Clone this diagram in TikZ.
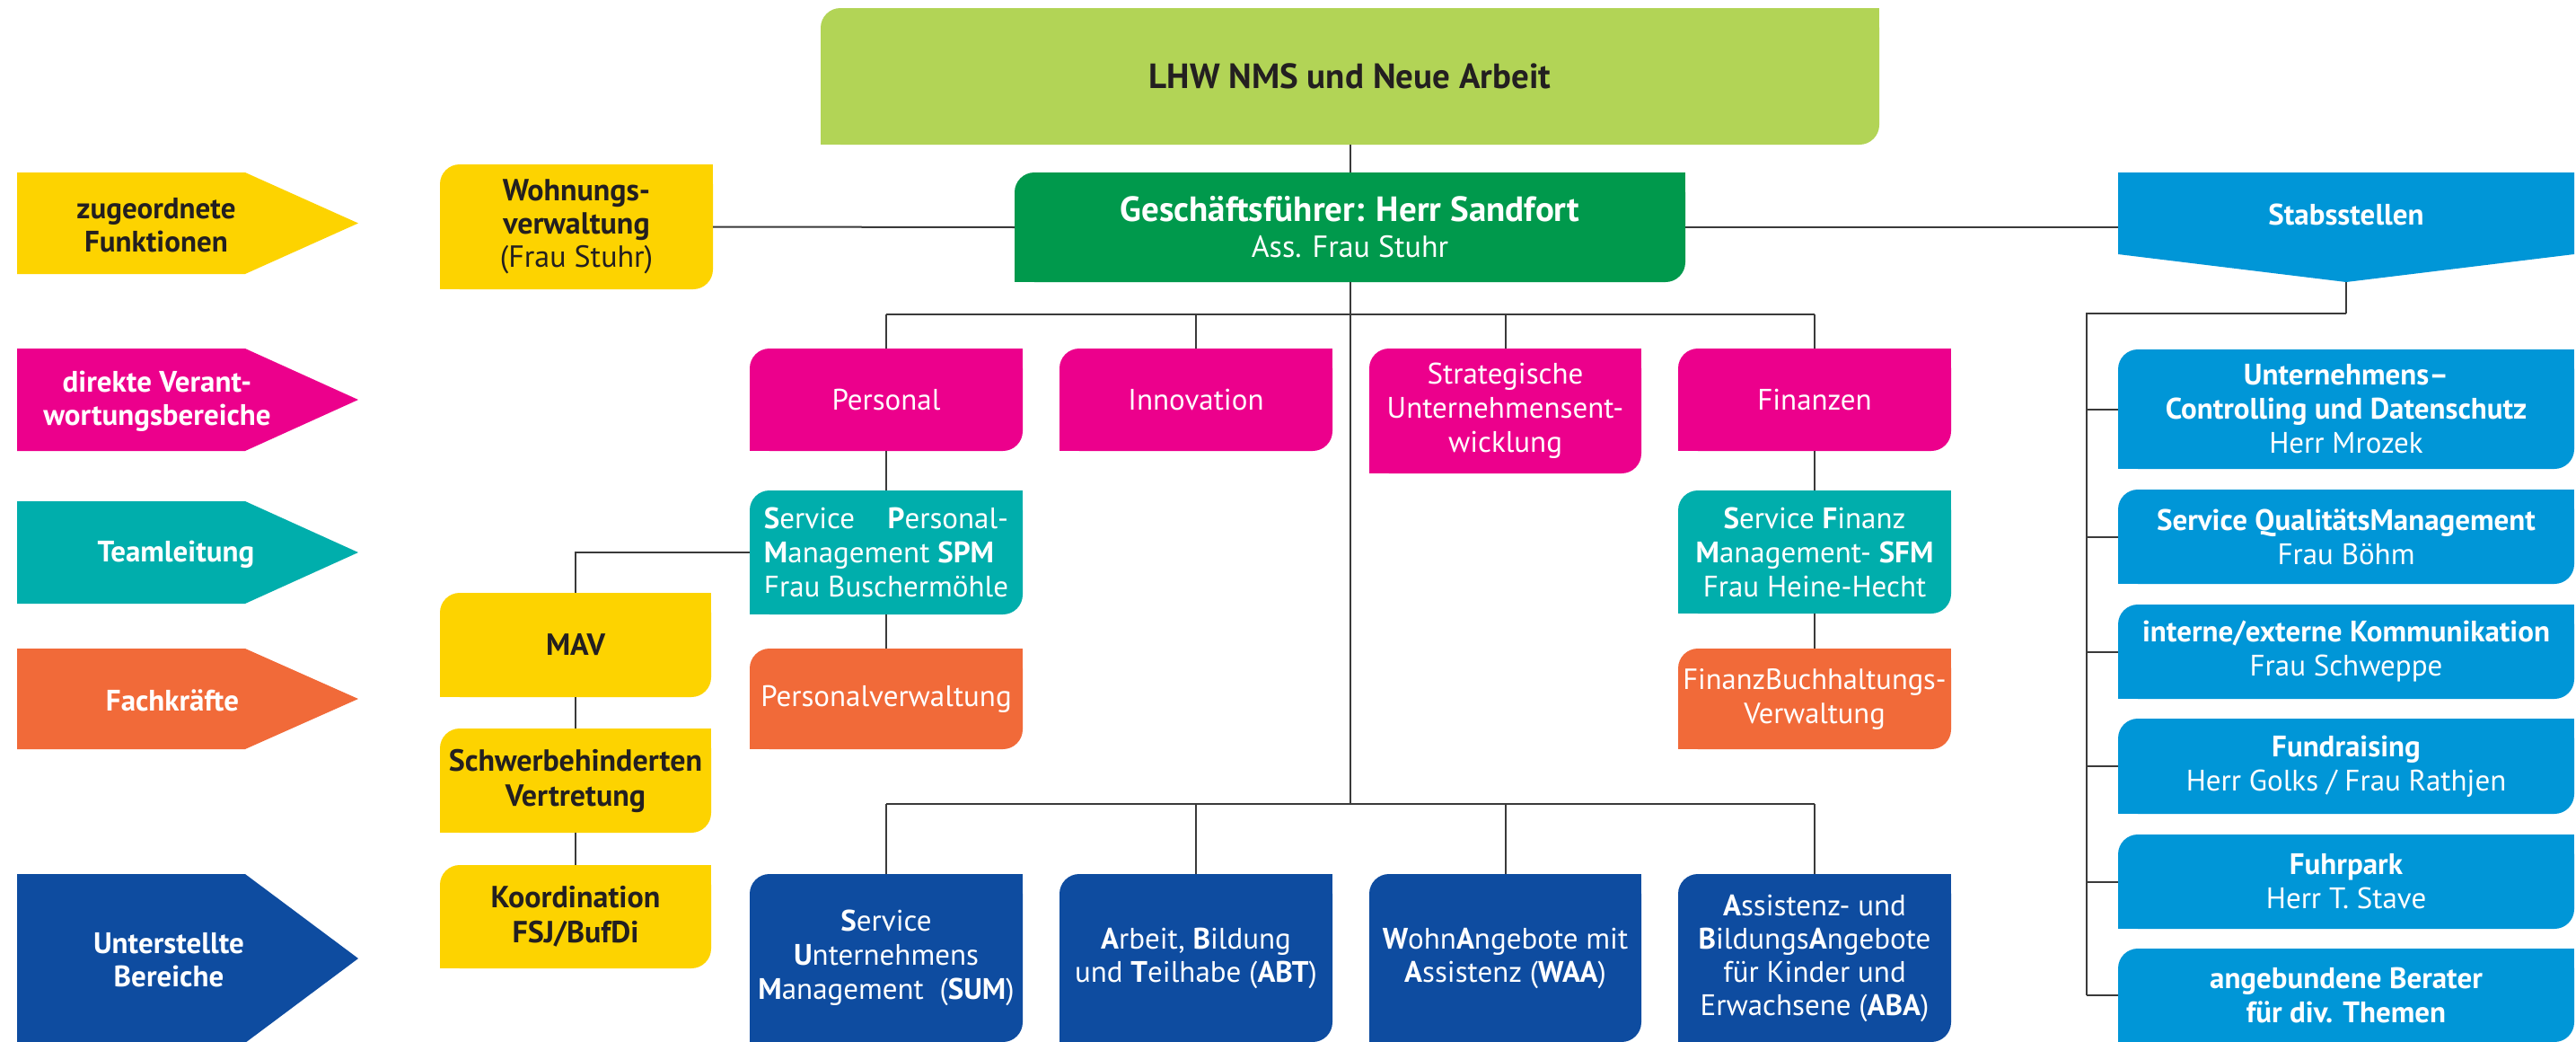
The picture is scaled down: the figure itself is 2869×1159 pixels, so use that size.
\documentclass[tikz,border=0pt]{standalone}
\usepackage{fontspec}
\setmainfont{PT Sans}
\usetikzlibrary{calc}
\definecolor{lgreen}{RGB}{178,212,86}
\definecolor{dgreen}{RGB}{0,153,76}
\definecolor{yel}{RGB}{253,211,0}
\definecolor{mag}{RGB}{236,0,140}
\definecolor{teal2}{RGB}{0,174,172}
\definecolor{ora}{RGB}{241,106,57}
\definecolor{dblue}{RGB}{14,76,160}
\definecolor{lblue}{RGB}{0,150,215}
\definecolor{tdark}{RGB}{35,31,32}
\definecolor{linec}{RGB}{58,58,58}
\newlength\spmw
\newcommand\fs[2]{\fontsize{#1pt}{#2pt}\selectfont}
\tikzset{
  conn/.style={draw=linec, line width=2pt},
  bus/.style={draw=linec, line width=2.6pt},
  obox/.style={rectangle, rounded corners=22pt, outer sep=0pt, inner sep=1pt, align=center},
  lbl/.style={align=center, inner sep=0pt},
}
% name x1 y1 x2 y2 fill textcolor font text
\newcommand\obox[9]{%
  \pgfmathsetmacro\bw{#4-#2}\pgfmathsetmacro\bh{#5-#3}%
  \node[obox, fill=#6, text=#7, font=#8, minimum width=\bw pt, minimum height=\bh pt] (#1) at ({(#2+#4)/2},{(#3+#5)/2}) {#9};
  \fill[#6] (#1.north east) rectangle ([xshift=-24pt,yshift=-24pt]#1.north east);
  \fill[#6] (#1.south west) rectangle ([xshift=24pt,yshift=24pt]#1.south west);
}
% name y1 y2 fill textcolor textx text
\newcommand\legarrow[7]{%
  \fill[#4] (19,#2) -- (273,#2) -- (399,{(#2+#3)/2}) -- (273,#3) -- (19,#3) -- cycle;
  \node[lbl, text=#5, font=\fs{33}{37}\bfseries] (#1) at (#6,{(#2+#3)/2+2}) {#7};
}
\begin{document}
\settowidth{\spmw}{\fs{33}{38}Frau Buschermöhle}%
\begin{tikzpicture}[x=1pt,y=-1pt]
\useasboundingbox[fill=white] (0,0) rectangle (2869,1159);

% legend arrows
\legarrow{la1}{192}{305}{yel}{tdark}{174}{zugeordnete\\Funktionen}
\legarrow{la2}{388}{502}{mag}{white}{175}{direkte Verant-\\wortungsbereiche}
\legarrow{la3}{558}{672}{teal2}{white}{196}{Teamleitung}
\legarrow{la4}{722}{834}{ora}{white}{192}{Fachkräfte}
\legarrow{la5}{973}{1161}{dblue}{white}{188}{Unterstellte\\Bereiche}

% top
\obox{lhw}{914}{9}{2093}{161}{lgreen}{tdark}{\fs{39}{44}\bfseries}{LHW NMS und Neue Arbeit}
\obox{gf}{1130}{192}{1877}{314}{dgreen}{white}{\fs{34}{40}}{{\fs{39}{40}\bfseries Geschäftsführer: Herr Sandfort}\\Ass. Frau Stuhr}
\obox{woh}{490}{183}{794}{322}{yel}{tdark}{\fs{34}{37}}{\textbf{Wohnungs-}\\\textbf{verwaltung}\\(Frau Stuhr)}

% Stabsstellen
\fill[lblue] (2359,192) -- (2867,192) -- (2867,283) -- (2613,314) -- (2359,283) -- cycle;
\node[rectangle, minimum width=508pt, minimum height=91pt, outer sep=0pt, text=white, font=\fs{33}{38}\bfseries] (stab) at (2613,239) {Stabsstellen};
\coordinate (stabtip) at (2613,314);
\coordinate (sbend) at (2613,349);
\coordinate (sleft) at (2324,349);

% direct responsibility
\obox{per}{835}{388}{1139}{502}{mag}{white}{\fs{33}{38}}{Personal}
\obox{inn}{1180}{388}{1484}{502}{mag}{white}{\fs{33}{38}}{Innovation}
\obox{str}{1525}{388}{1828}{527}{mag}{white}{\fs{33}{38}}{Strategische\\Unternehmensent-\\wicklung}
\obox{fin}{1869}{388}{2173}{502}{mag}{white}{\fs{33}{38}}{Finanzen}

% team leads
\obox{spm}{835}{546}{1139}{684}{teal2}{white}{\fs{33}{38}}{\hbox to \spmw{\textbf{S}ervice\hfill\textbf{P}ersonal-}\\\hbox to \spmw{\textbf{M}anagement \textbf{SPM}\hfil}\\\hbox to \spmw{Frau Buschermöhle}}
\obox{sfm}{1869}{546}{2173}{683}{teal2}{white}{\fs{33}{38}}{\textbf{S}ervice \textbf{F}inanz\\\textbf{M}anagement- \textbf{SFM}\\Frau Heine-Hecht}

% specialists
\obox{pv}{835}{722}{1139}{834}{ora}{white}{\fs{33}{38}}{Personalverwaltung}
\obox{fbv}{1869}{722}{2173}{834}{ora}{white}{\fs{32.5}{38}}{FinanzBuchhaltungs-\\Verwaltung}

% yellow side boxes
\obox{mav}{490}{660}{792}{776}{yel}{tdark}{\fs{34}{38}\bfseries}{MAV}
\obox{sbv}{490}{811}{792}{927}{yel}{tdark}{\fs{34}{39}\bfseries}{Schwerbehinderten\\Vertretung}
\obox{kfd}{490}{963}{792}{1078}{yel}{tdark}{\fs{34}{39}\bfseries}{Koordination\\FSJ/BufDi}

% subordinate areas
\obox{sum}{835}{973}{1139}{1160}{dblue}{white}{\fs{33}{38}}{\textbf{S}ervice\\\textbf{U}nternehmens\\\textbf{M}anagement~ (\textbf{SUM})}
\obox{abt}{1180}{973}{1484}{1160}{dblue}{white}{\fs{33}{37}}{\textbf{A}rbeit, \textbf{B}ildung\\und \textbf{T}eilhabe (\textbf{ABT})}
\obox{waa}{1525}{973}{1828}{1160}{dblue}{white}{\fs{33}{37}}{\textbf{W}ohn\textbf{A}ngebote mit\\\textbf{A}ssistenz (\textbf{WAA})}
\obox{aba}{1869}{973}{2173}{1160}{dblue}{white}{\fs{33}{37}}{\textbf{A}ssistenz- und\\\textbf{B}ildungs\textbf{A}ngebote\\für Kinder und\\Erwachsene (\textbf{ABA})}

% staff units
\obox{r1}{2359}{389}{2867}{522}{lblue}{white}{\fs{33}{38}}{\textbf{Unternehmens--}\\\textbf{Controlling und Datenschutz}\\Herr Mrozek}
\obox{r2}{2359}{545}{2867}{650}{lblue}{white}{\fs{33}{38}}{\textbf{Service QualitätsManagement}\\Frau Böhm}
\obox{r3}{2359}{673}{2867}{778}{lblue}{white}{\fs{33}{38}}{\textbf{interne/externe Kommunikation}\\Frau Schweppe}
\obox{r4}{2359}{800}{2867}{906}{lblue}{white}{\fs{33}{38}}{\textbf{Fundraising}\\Herr Golks / Frau Rathjen}
\obox{r5}{2359}{929}{2867}{1034}{lblue}{white}{\fs{33}{38}}{\textbf{Fuhrpark}\\Herr T. Stave}
\obox{r6}{2359}{1056}{2867}{1160}{lblue}{white}{\fs{33}{38}}{\textbf{angebundene Berater}\\\textbf{für div. Themen}}

% connectors
\coordinate (ub) at (1503.5,350);
\coordinate (lb) at (1503.5,895);
\draw[conn] (lhw.south) -- (gf.north);
\draw[conn] (woh.east) -- (gf.west);
\draw[conn] (gf.east) -- (gf.east -| stab.west);
\draw[conn] (gf.south) -- (lb);
\draw[bus] (per.north |- ub) -- (fin.north |- ub);
\foreach \n in {per,inn,str,fin} \draw[conn] (\n.north |- ub) -- (\n.north);
\draw[conn] (per.south) -- (spm.north);
\draw[conn] (spm.south) -- (pv.north);
\draw[conn] (fin.south) -- (sfm.north);
\draw[conn] (sfm.south) -- (fbv.north);
\draw[conn] (spm.west) -| (mav.north);
\draw[conn] (mav.south) -- (sbv.north);
\draw[conn] (sbv.south) -- (kfd.north);
\draw[bus] (sum.north |- lb) -- (aba.north |- lb);
\foreach \n in {sum,abt,waa,aba} \draw[conn] (\n.north |- lb) -- (\n.north);
\draw[conn] (stabtip) -- (sbend);
\draw[bus] (sbend) -- (sleft) -- (sleft |- r6.west);
\foreach \n in {r1,r2,r3,r4,r5,r6} \draw[conn] (sleft |- \n.west) -- (\n.west);
\end{tikzpicture}
\end{document}
